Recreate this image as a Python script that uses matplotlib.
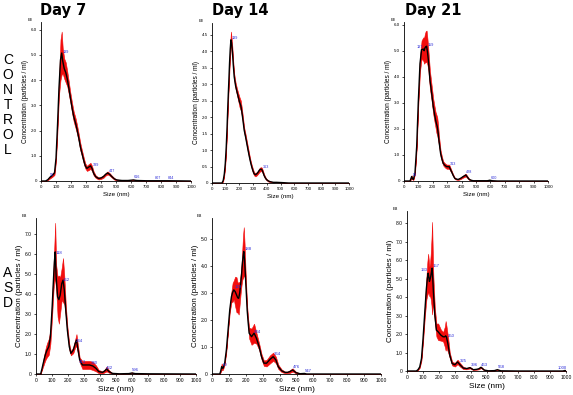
import numpy as np
import matplotlib
matplotlib.use("Agg")
import matplotlib.pyplot as plt

plt.rcParams['font.family'] = ['Liberation Sans', 'DejaVu Sans']

# ---- Control, day 7 (concentration in E8 particles/ml) ----
size_c7 = [0, 30, 45, 60, 75, 90, 100, 110, 120, 130,
           138, 145, 155, 165, 175, 185, 195, 207, 218, 230,
           240, 252, 262, 273, 284, 295, 306, 318, 330, 340,
           351, 365, 384, 400, 417, 430, 444, 458, 473, 490,
           506, 540, 580, 615, 640, 700, 800, 850, 1000]
conc_c7 = [0, 0, 0.05, 0.15, 0.22, 0.32, 0.9, 2.2, 3.7, 4.8,
           5.07, 4.75, 4.45, 4.3, 4.05, 3.7, 3.33, 2.9, 2.55, 2.3,
           2.05, 1.7, 1.36, 1.1, 0.83, 0.6, 0.5, 0.55, 0.6, 0.5,
           0.3, 0.17, 0.1, 0.12, 0.18, 0.26, 0.32, 0.26, 0.17, 0.08,
           0.04, 0.02, 0.02, 0.04, 0.02, 0.01, 0.01, 0.01, 0]
err_c7 = [0, 0, 0.02, 0.05, 0.06, 0.08, 0.12, 0.2, 0.3, 0.8,
          0.85, 0.5, 0.4, 0.4, 0.3, 0.25, 0.2, 0.2, 0.2, 0.2,
          0.18, 0.15, 0.15, 0.12, 0.12, 0.1, 0.1, 0.12, 0.12, 0.1,
          0.08, 0.05, 0.04, 0.04, 0.05, 0.05, 0.06, 0.05, 0.04, 0.03,
          0.02, 0.01, 0.01, 0.02, 0.01, 0, 0, 0, 0]
peaks_c7 = [56, 139, 339, 447, 616, 807, 844]

# ---- Control, day 14 ----
size_c14 = [0, 60, 73, 82, 90, 97, 104, 110, 116, 122,
            128, 133, 138, 143, 148, 155, 162, 172, 182, 192,
            201, 210, 218, 226, 235, 245, 254, 263, 273, 282,
            290, 298, 307, 317, 327, 337, 346, 355, 363, 372,
            380, 390, 399, 412, 424, 448, 472, 520, 560, 1000]
conc_c14 = [0, 0, 0, 0.08, 0.28, 0.6, 1.1, 1.7, 2.4, 3.0,
            3.63, 4.05, 4.34, 4.25, 4.04, 3.6, 3.22, 2.95, 2.77, 2.6,
            2.45, 2.35, 2.15, 1.9, 1.6, 1.4, 1.2, 1.0, 0.79, 0.62,
            0.49, 0.38, 0.28, 0.25, 0.28, 0.33, 0.39, 0.42, 0.41, 0.33,
            0.23, 0.15, 0.1, 0.06, 0.04, 0.02, 0.02, 0.01, 0, 0]
err_c14 = [0, 0, 0, 0.02, 0.04, 0.06, 0.08, 0.1, 0.1, 0.12,
           0.15, 0.18, 0.25, 0.15, 0.12, 0.1, 0.1, 0.1, 0.1, 0.12,
           0.15, 0.15, 0.12, 0.1, 0.08, 0.08, 0.08, 0.08, 0.07, 0.06,
           0.06, 0.06, 0.05, 0.05, 0.05, 0.05, 0.06, 0.06, 0.06, 0.05,
           0.04, 0.03, 0.02, 0.02, 0.01, 0.01, 0, 0, 0, 0]
peaks_c14 = [139, 363]

# ---- Control, day 21 ----
size_c21 = [0, 42, 53, 60, 65, 76, 88, 99, 111, 122,
            134, 140, 145, 151, 157, 163, 169, 180, 192, 203,
            211, 219, 225, 231, 237, 242, 254, 263, 272, 284,
            296, 305, 314, 322, 330, 341, 353, 365, 376, 392,
            411, 420, 429, 440, 453, 466, 480, 520, 580, 596,
            612, 650, 1000]
conc_c21 = [0, 0, 0.17, 0.08, 0.06, 0.3, 1.32, 3.0, 4.5, 5.04,
            5.06, 5.0, 5.1, 5.15, 5.17, 4.95, 4.65, 3.88, 3.37, 2.86,
            2.6, 2.35, 2.2, 2.09, 1.85, 1.58, 1.06, 0.85, 0.68, 0.6,
            0.55, 0.55, 0.55, 0.45, 0.36, 0.22, 0.1, 0.07, 0.06, 0.1,
            0.17, 0.2, 0.23, 0.15, 0.06, 0.03, 0.01, 0.01, 0.01, 0.03,
            0.01, 0, 0]
err_c21 = [0, 0, 0.05, 0.03, 0.02, 0.05, 0.1, 0.15, 0.3, 0.35,
           0.45, 0.5, 0.55, 0.6, 0.6, 0.5, 0.4, 0.35, 0.3, 0.3,
           0.3, 0.3, 0.35, 0.35, 0.3, 0.2, 0.12, 0.1, 0.08, 0.08,
           0.08, 0.08, 0.08, 0.07, 0.05, 0.04, 0.03, 0.02, 0.02, 0.03,
           0.04, 0.05, 0.05, 0.04, 0.02, 0.01, 0, 0, 0, 0.01,
           0, 0, 0]
peaks_c21 = [55, 137, 159, 313, 428, 600]

# ---- ASD, day 7 ----
size_a7 = [0, 29, 37, 45, 55, 62, 69, 80, 90, 100,
           110, 115, 120, 126, 135, 143, 151, 161, 169, 177,
           186, 196, 208, 218, 233, 245, 253, 263, 273, 290,
           314, 335, 355, 375, 392, 416, 432, 441, 457, 477,
           520, 580, 600, 620, 700, 1000]
conc_a7 = [0, 0, 0.25, 0.53, 0.86, 1.05, 1.19, 1.36, 1.86, 3.18,
           4.84, 5.6, 6.09, 4.84, 3.85, 3.71, 3.93, 4.51, 4.68, 4.18,
           3.18, 2.19, 1.36, 1.03, 1.19, 1.53, 1.69, 1.19, 0.7, 0.45,
           0.45, 0.45, 0.4, 0.28, 0.12, 0.08, 0.17, 0.25, 0.12, 0.03,
           0.01, 0.02, 0.05, 0.02, 0.01, 0]
err_a7 = [0, 0, 0.05, 0.15, 0.25, 0.3, 0.35, 0.4, 0.35, 0.4,
          0.6, 0.9, 1.45, 0.6, 1.0, 1.2, 0.9, 0.8, 1.1, 0.7,
          0.3, 0.2, 0.15, 0.1, 0.15, 0.2, 0.3, 0.2, 0.12, 0.2,
          0.2, 0.2, 0.2, 0.15, 0.08, 0.05, 0.08, 0.12, 0.06, 0.02,
          0, 0.01, 0.03, 0.01, 0, 0]
peaks_a7 = [118, 162, 244, 313, 340, 432, 596]

# ---- ASD, day 14 ----
size_a14 = [0, 46, 52, 57, 62, 65, 75, 85, 95, 105,
            115, 122, 129, 137, 145, 152, 158, 164, 170, 175,
            180, 184, 188, 193, 198, 203, 208, 214, 220, 234,
            249, 263, 279, 293, 307, 323, 343, 362, 378, 392,
            412, 432, 447, 461, 477, 497, 521, 547, 560, 1000]
conc_a14 = [0, 0, 0.12, 0.27, 0.22, 0.21, 0.4, 0.89, 1.63, 2.37,
            2.86, 3.02, 3.11, 3.05, 2.93, 2.82, 2.8, 3.0, 3.36, 3.7,
            4.1, 4.35, 4.53, 4.2, 3.6, 3.0, 2.37, 1.9, 1.51, 1.38,
            1.51, 1.32, 1.01, 0.64, 0.4, 0.4, 0.54, 0.64, 0.52, 0.27,
            0.12, 0.06, 0.06, 0.09, 0.15, 0.05, 0.01, 0.02, 0, 0]
err_a14 = [0, 0, 0.05, 0.12, 0.08, 0.05, 0.05, 0.06, 0.08, 0.1,
           0.2, 0.35, 0.35, 0.55, 0.65, 0.55, 0.6, 0.4, 0.35, 0.4,
           0.6, 0.8, 0.9, 0.6, 0.3, 0.2, 0.15, 0.15, 0.2, 0.3,
           0.35, 0.2, 0.12, 0.1, 0.1, 0.12, 0.15, 0.15, 0.12, 0.08,
           0.05, 0.03, 0.03, 0.05, 0.06, 0.03, 0.01, 0.01, 0, 0]
peaks_a14 = [60, 129, 188, 244, 364, 476, 547]

# ---- ASD, day 21 ----
size_a21 = [0, 59, 70, 80, 91, 101, 112, 122, 128, 133,
            137, 141, 145, 149, 154, 158, 162, 166, 175, 185,
            196, 213, 227, 238, 243, 248, 259, 269, 284, 301,
            318, 333, 354, 375, 396, 417, 438, 452, 465, 486,
            512, 550, 568, 590, 700, 980, 995, 1000]
conc_a21 = [0, 0, 0.08, 0.22, 0.67, 1.76, 3.2, 4.47, 5.0, 5.29,
            5.1, 4.84, 4.95, 5.1, 5.35, 5.56, 5.0, 4.29, 3.03, 2.21,
            2.12, 1.94, 1.85, 1.85, 1.9, 1.85, 1.39, 0.85, 0.4, 0.34,
            0.49, 0.34, 0.16, 0.13, 0.18, 0.07, 0.09, 0.12, 0.2, 0.05,
            0.01, 0.02, 0.07, 0.01, 0, 0, 0.03, 0]
err_a21 = [0, 0, 0.02, 0.05, 0.1, 0.2, 0.3, 0.6, 0.9, 1.05,
           0.9, 0.8, 0.9, 1.2, 1.8, 2.5, 1.5, 0.8, 0.4, 0.35,
           0.45, 0.3, 0.25, 0.55, 0.8, 0.6, 0.4, 0.15, 0.1, 0.1,
           0.12, 0.1, 0.06, 0.04, 0.04, 0.02, 0.02, 0.03, 0.04, 0.02,
           0, 0.01, 0.02, 0, 0, 0, 0.01, 0]
peaks_a21 = [133, 157, 250, 325, 396, 463, 568, 1000]

W, H = 573, 395
fig = plt.figure(figsize=(W / 100, H / 100), dpi=100)

# (left, bottom, right, top) in pixels, y-limit, y step, x max, tick fontsize
panels = [
    ((41, 181, 191, 22), size_c7, conc_c7, err_c7, peaks_c7, 6.3, 1.0, 1000, 3.2),
    ((212, 183, 349, 23), size_c14, conc_c14, err_c14, peaks_c14, 4.85, 0.5, 1000, 3.2),
    ((404, 181, 548, 22), size_c21, conc_c21, err_c21, peaks_c21, 6.1, 1.0, 1000, 3.2),
    ((36, 374, 196, 218), size_a7, conc_a7, err_a7, peaks_a7, 7.78, 1.0, 1000, 3.6),
    ((212, 374, 381, 218), size_a14, conc_a14, err_a14, peaks_a14, 5.77, 1.0, 1000, 3.6),
    ((407, 371, 566, 211), size_a21, conc_a21, err_a21, peaks_a21, 8.65, 1.0, 1000, 3.6),
]

for i, (box, sx, cy, er, pk, ytop, ystep, xmax, fs) in enumerate(panels):
    l, b, r, t = box
    ax = fig.add_axes([l / W, 1 - b / H, (r - l) / W, (b - t) / H])
    sx = np.array(sx, dtype=float)
    cy = np.array(cy, dtype=float)
    er = np.array(er, dtype=float)
    ax.fill_between(sx, cy - er, cy + er, color='#f20d0d', lw=0.4, zorder=2)
    ax.plot(sx, cy, color='black', lw=1.0, zorder=3)
    for j, p in enumerate(pk):
        v = np.interp(p, sx, cy)
        # close neighbours: put the first label to the left of its peak
        close = j + 1 < len(pk) and pk[j + 1] - p < 40
        if p >= xmax:
            ha, dx = 'right', 0.5
        elif close:
            ha, dx = 'right', -0.3
        else:
            ha, dx = 'left', 0.5
        ax.annotate(str(p), (p, v), xytext=(dx, 0.5), textcoords='offset points',
                    fontsize=fs - 0.5, color='#2b2bd8', ha=ha, va='bottom',
                    zorder=4, annotation_clip=False)
    ax.set_xlim(0, xmax)
    ax.set_ylim(0, ytop)
    ax.set_xticks(np.arange(0, xmax + 1, 100))
    yt = np.arange(0, ytop + 1e-9, ystep)
    ax.set_yticks(yt)
    ax.set_yticklabels(['0' if v == 0 else f'{v:.1f}' for v in yt])
    for s in ['top', 'right']:
        ax.spines[s].set_visible(False)
    for s in ['left', 'bottom']:
        ax.spines[s].set_linewidth(0.6)
    ax.tick_params(labelsize=fs, length=1.5, width=0.5, pad=1.5)
    ax.text(-0.06, 1.0, 'E8', transform=ax.transAxes, fontsize=fs - 0.4,
            ha='right', va='bottom')
    big = i >= 3
    ax.set_ylabel('Concentration (particles / ml)', fontsize=5.8 if big else 4.7,
                  labelpad=1.5)
    ax.set_xlabel('Size (nm)', fontsize=6.0 if big else 4.5, labelpad=2)

for x, txt in [(40, 'Day 7'), (212, 'Day 14'), (405, 'Day 21')]:
    fig.text(x / W, 1 - 11 / H, txt, fontsize=10.5, fontweight='bold',
             family='DejaVu Sans', ha='left', va='center')

for k, ch in enumerate('CONTROL'):
    fig.text(8 / W, 1 - (60 + 15 * k) / H, ch, fontsize=10, ha='center', va='center')
for k, ch in enumerate('ASD'):
    fig.text(8 / W, 1 - (273 + 15 * k) / H, ch, fontsize=10, ha='center', va='center')

fig.savefig('out.png', dpi=100)
